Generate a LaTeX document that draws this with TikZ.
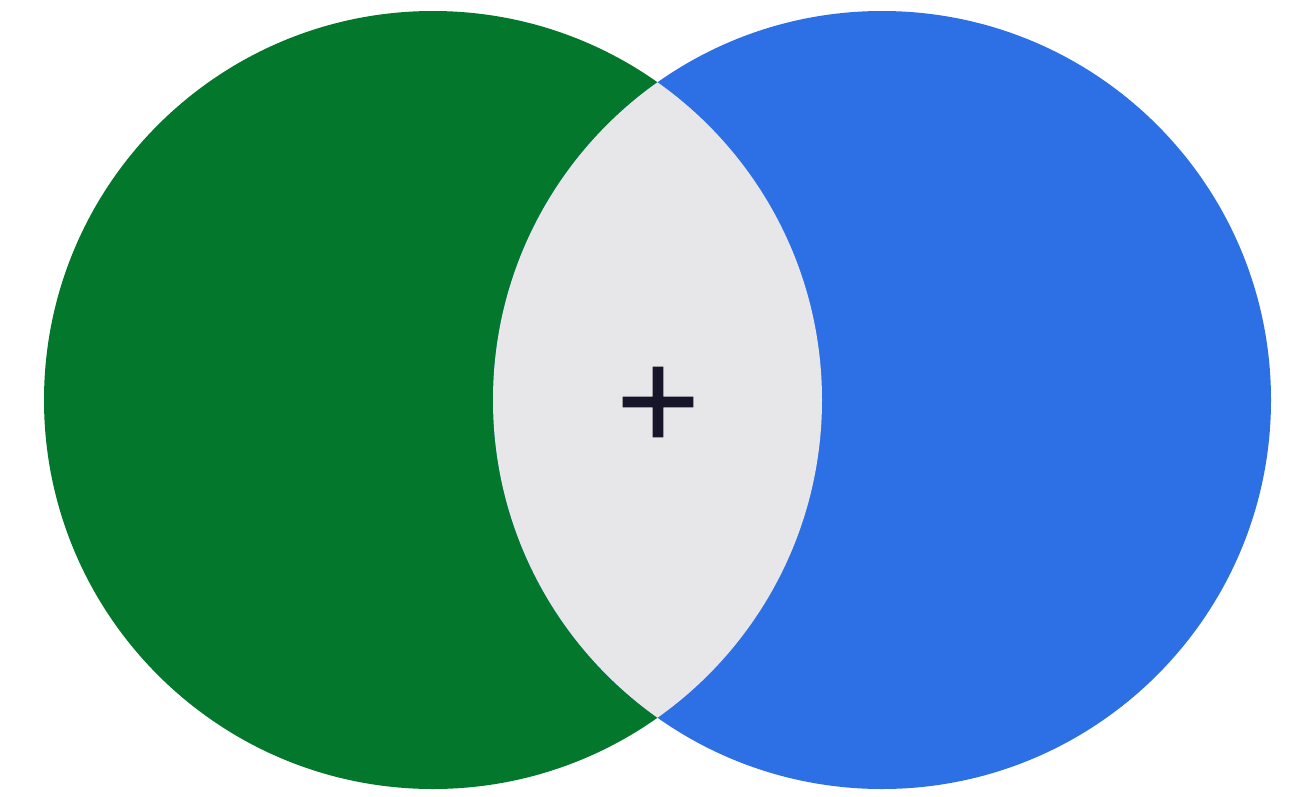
\documentclass[tikz,border=0pt]{standalone}
\usepackage{fontspec}
\newfontfamily\plusfont[FakeBold=1.6]{DejaVu Sans}
\definecolor{vgreen}{HTML}{03772B}
\definecolor{vblue}{HTML}{2D6FE4}
\definecolor{vlens}{HTML}{E7E7EA}
\definecolor{vink}{HTML}{16152A}
\tikzset{
  setfill/.style={draw=none},
  opsign/.style={inner sep=0pt, outer sep=0pt, text=vink, font=\plusfont\fontsize{110}{110}\selectfont}
}
\begin{document}
\begin{tikzpicture}[x=1pt,y=-1pt]
\useasboundingbox (0,0) rectangle (1296,796);
\coordinate (cl) at (433,400);
\coordinate (cr) at (882,400);
\fill[vgreen,setfill] (cl) circle[radius=389];
\fill[vblue,setfill] (cr) circle[radius=389];
\begin{scope}
  \clip (cl) circle[radius=389];
  \fill[vlens,setfill] (cr) circle[radius=389];
\end{scope}
\node[opsign] (plus) at (658,402) {+};
\end{tikzpicture}
\end{document}
